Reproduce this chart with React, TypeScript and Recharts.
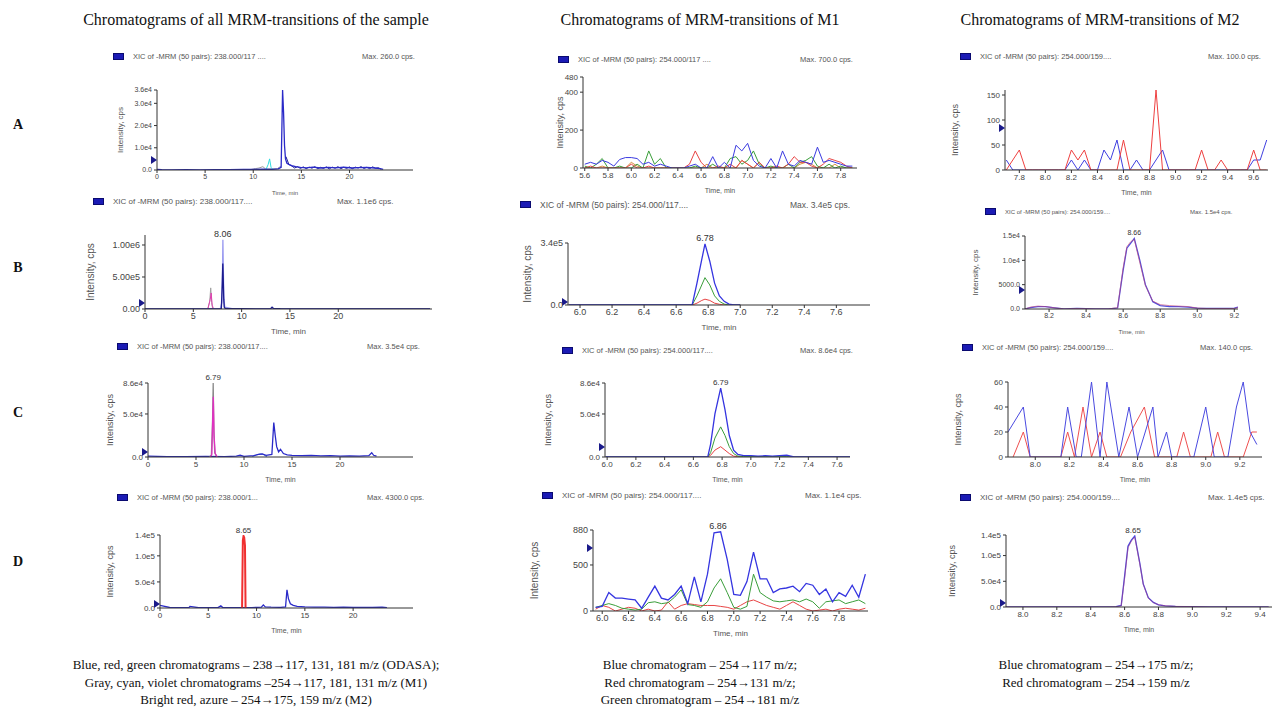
import React from 'react';
import { LineChart, Line, XAxis, YAxis, ReferenceDot } from 'recharts';

// ---------- column 1: all MRM transitions of the sample (0-24 min) ----------
const a1BlueT = [0, 0.5, 1.5, 3, 4.5, 6, 7.5, 9, 10, 11, 12, 12.6, 12.9, 13.05, 13.15, 13.25, 13.35, 13.5, 13.7, 14.0, 14.4, 14.9, 15.5, 16.2, 17.0, 17.8, 18.6, 19.4, 20.2, 21.0, 21.8, 22.6, 23.2, 23.5];
const a1Blue = [300, 200, 100, 150, 100, 150, 200, 250, 300, 400, 300, 500, 1200, 36000, 26000, 11000, 5000, 3000, 2500, 2000, 1500, 1200, 1000, 1300, 900, 1200, 1000, 1300, 900, 1100, 1200, 900, 600, 300];
const a1NavyT = [13.4, 13.7, 14.0, 14.3, 14.6, 14.9, 15.2, 15.5, 15.8, 16.1, 16.4, 16.7, 17.0, 17.3, 17.6, 17.9, 18.2, 18.5, 18.8, 19.1, 19.4, 19.7, 20.0, 20.3, 20.6, 20.9, 21.2, 21.5, 21.8, 22.1, 22.4, 22.7, 23.0, 23.3];
const a1Navy = [6000, 2500, 1800, 900, 1500, 700, 1400, 600, 1300, 800, 1500, 600, 1200, 700, 1400, 500, 1300, 800, 1500, 600, 1200, 700, 1400, 600, 1300, 900, 1500, 700, 1200, 600, 1400, 800, 1000, 300];
const a1CyanT = [11.3, 11.55, 11.7, 11.85, 12.1];
const a1Cyan = [0, 2500, 5000, 1200, 0];
const a1GrayT = [9.5, 10.2, 10.6, 11.0, 11.3, 12.5, 12.9];
const a1Gray = [0, 600, 900, 1500, 400, 600, 1800];

const b1LavT = [0, 2, 4, 6, 7.8, 7.95, 8.02, 8.06, 8.1, 8.15, 8.25, 9, 11, 13, 15, 18, 21, 24, 27, 29.5];
const b1Lav = [0, 3000, 2000, 3000, 5000, 100000, 600000, 1080000, 700000, 200000, 30000, 5000, 3000, 2000, 2000, 2000, 2000, 2000, 2000, 2000];
const b1NavyT = [0, 1, 3, 5, 7.9, 8.0, 8.05, 8.1, 8.15, 8.2, 8.3, 10, 12, 13.0, 13.15, 13.3, 14, 17, 20, 23, 26, 29.5];
const b1Navy = [1000, 2000, 1000, 2000, 3000, 400000, 710000, 450000, 150000, 30000, 8000, 4000, 3000, 4000, 30000, 8000, 4000, 3000, 3000, 3000, 3000, 3000];
const b1PinkT = [6.5, 6.75, 6.85, 6.95, 7.1];
const b1Pink = [0, 150000, 250000, 60000, 0];
const b1GrayT = [6.5, 6.7, 6.8, 6.9, 7.0];
const b1Gray = [0, 120000, 330000, 100000, 0];

const c1GrayT = [6.4, 6.6, 6.72, 6.79, 6.86, 6.95, 7.2];
const c1Gray = [0, 2000, 40000, 86000, 30000, 5000, 0];
const c1PinkT = [6.5, 6.65, 6.75, 6.8, 6.88, 7.0, 7.2];
const c1Pink = [0, 3000, 50000, 70000, 25000, 4000, 0];
const c1BlueT = [0, 2, 4, 6, 8, 9.2, 9.6, 10, 11, 11.5, 11.9, 12.3, 12.9, 13.1, 13.25, 13.4, 13.6, 13.8, 14.1, 14.5, 15, 16, 17, 18, 19, 20, 21, 22, 23, 23.3, 23.5, 23.8];
const c1Blue = [1000, 500, 500, 800, 500, 1000, 2000, 800, 1500, 3000, 3500, 2000, 3000, 40000, 25000, 12000, 6000, 9000, 4000, 2500, 2000, 1500, 1800, 1200, 1500, 1000, 1300, 1100, 1500, 5000, 2000, 1000];
const c1LBlueT = [10.8, 11.3, 11.7, 12.0, 12.4];
const c1LBlue = [0, 2500, 3500, 3000, 0];

const d1RedT = [8.5, 8.58, 8.65, 8.72, 8.8, 8.86];
const d1Red = [0, 130000, 138000, 135000, 120000, 0];
const d1BlueT = [0, 1, 2, 3, 3.1, 4, 5, 6, 6.3, 6.5, 7.5, 8.5, 9.5, 10.5, 10.7, 10.9, 11.5, 12.5, 13.0, 13.15, 13.3, 13.5, 13.8, 14.2, 15, 16, 17, 18, 19, 20, 21, 22, 23, 23.5];
const d1Blue = [5000, 1000, 500, 800, 3000, 600, 800, 700, 4000, 800, 600, 700, 800, 1500, 6000, 2000, 1500, 1200, 2000, 35000, 18000, 8000, 5000, 3000, 2000, 1500, 1800, 1200, 1500, 1000, 1300, 1100, 1500, 800];

// ---------- column 2: M1 transitions ----------
const a2T = [5.60, 5.65, 5.70, 5.75, 5.80, 5.85, 5.90, 5.95, 6.00, 6.05, 6.10, 6.15, 6.20, 6.25, 6.30, 6.35, 6.40, 6.45, 6.50, 6.55, 6.60, 6.65, 6.70, 6.75, 6.80, 6.85, 6.90, 6.95, 7.00, 7.05, 7.10, 7.15, 7.20, 7.25, 7.30, 7.35, 7.40, 7.45, 7.50, 7.55, 7.60, 7.65, 7.70, 7.75, 7.80, 7.85, 7.90];
const a2Blue = [20, 30, 20, 40, 30, 10, 45, 55, 55, 50, 20, 30, 10, 20, 10, 0, 0, 0, 10, 20, 0, 0, 60, 0, 30, 0, 120, 90, 130, 40, 10, 0, 50, 0, 90, 20, 10, 40, 30, 20, 110, 30, 40, 30, 20, 10, 10];
const a2Red = [0, 10, 0, 0, 0, 0, 0, 0, 20, 0, 0, 10, 0, 0, 0, 0, 0, 0, 20, 90, 30, 0, 0, 10, 0, 20, 0, 40, 20, 0, 30, 0, 0, 10, 0, 20, 60, 30, 30, 10, 0, 20, 50, 40, 30, 10, 0];
const a2Green = [10, 0, 20, 50, 0, 0, 10, 0, 0, 20, 0, 90, 20, 50, 0, 0, 0, 0, 0, 10, 0, 0, 20, 0, 0, 50, 60, 20, 40, 90, 20, 0, 10, 0, 0, 20, 0, 30, 40, 60, 10, 0, 20, 0, 10, 0, 0];
const a2Orange = [0, 0, 0, 10, 0, 0, 0, 0, 30, 10, 0, 0, 0, 0, 0, 0, 0, 0, 0, 0, 0, 20, 0, 0, 0, 0, 0, 40, 20, 0, 30, 0, 0, 0, 0, 0, 0, 20, 30, 20, 0, 0, 0, 20, 0, 0, 0];

const b2T = [5.93, 5.95, 6.1, 6.3, 6.5, 6.68, 6.70, 6.73, 6.76, 6.78, 6.81, 6.84, 6.87, 6.90, 6.93, 6.96, 7.0];
const b2Blue = [0, 0, 0, 0, 0, 0, 0, 120000, 250000, 335000, 240000, 120000, 50000, 20000, 5000, 1000, 0];
const b2Green = [0, 0, 0, 0, 0, 0, 0, 50000, 110000, 150000, 110000, 50000, 20000, 5000, 0, 0, 0];
const b2Red = [0, 0, 0, 0, 0, 0, 0, 10000, 25000, 32000, 25000, 10000, 4000, 0, 0, 0, 0];

const c2T = [5.99, 6.2, 6.4, 6.6, 6.70, 6.72, 6.75, 6.79, 6.82, 6.85, 6.88, 6.91, 6.95, 7.0, 7.05, 7.1, 7.15, 7.2, 7.25, 7.3, 7.45, 7.6, 7.69];
const c2Blue = [0, 0, 0, 0, 0, 15000, 50000, 80000, 55000, 25000, 8000, 3000, 1500, 1500, 1000, 1500, 1000, 1500, 2000, 0, 0, 0, 0];
const c2Green = [0, 0, 0, 0, 0, 5000, 22000, 35000, 25000, 12000, 4000, 1000, 500, 500, 300, 400, 300, 400, 500, 0, 0, 0, 0];
const c2Red = [0, 0, 0, 0, 0, 2000, 8000, 12000, 8000, 4000, 1000, 300, 0, 0, 0, 0, 0, 0, 0, 0, 0, 0, 0];

const d2T = [5.95, 6.00, 6.05, 6.10, 6.15, 6.20, 6.25, 6.30, 6.35, 6.40, 6.45, 6.50, 6.55, 6.60, 6.65, 6.70, 6.75, 6.80, 6.85, 6.90, 6.95, 7.00, 7.05, 7.10, 7.15, 7.20, 7.25, 7.30, 7.35, 7.40, 7.45, 7.50, 7.55, 7.60, 7.65, 7.70, 7.75, 7.80, 7.85, 7.90, 7.95, 8.00];
const d2Blue = [40, 50, 200, 140, 140, 130, 120, 30, 150, 270, 140, 120, 180, 270, 80, 370, 100, 400, 850, 860, 560, 180, 170, 320, 640, 350, 350, 200, 240, 250, 270, 210, 300, 280, 180, 240, 100, 200, 160, 280, 150, 400];
const d2Green = [40, 60, 80, 60, 30, 20, 10, 20, 90, 100, 80, 90, 150, 230, 70, 60, 40, 100, 250, 350, 200, 40, 20, 50, 400, 200, 150, 110, 100, 110, 120, 100, 130, 100, 30, 100, 110, 120, 80, 100, 120, 80];
const d2Red = [20, 60, 40, 0, 20, 40, 30, 0, 20, 0, 10, 100, 20, 60, 80, 70, 60, 60, 60, 50, 40, 20, 60, 100, 120, 90, 60, 40, 20, 60, 100, 60, 20, 0, 10, 20, 0, 20, 30, 20, 10, 30];

// ---------- column 3: M2 transitions ----------
const a3T = [7.70, 7.75, 7.80, 7.85, 7.90, 7.95, 8.00, 8.05, 8.10, 8.15, 8.20, 8.25, 8.30, 8.35, 8.40, 8.45, 8.50, 8.55, 8.60, 8.65, 8.70, 8.75, 8.80, 8.85, 8.90, 8.95, 9.00, 9.05, 9.10, 9.15, 9.20, 9.25, 9.30, 9.35, 9.40, 9.45, 9.50, 9.55, 9.60, 9.65, 9.70];
const a3Blue = [20, 0, 0, 0, 0, 0, 0, 0, 0, 0, 20, 0, 20, 0, 0, 40, 20, 60, 0, 0, 20, 0, 0, 20, 40, 0, 0, 0, 0, 0, 0, 0, 0, 0, 0, 0, 0, 0, 20, 20, 60];
const a3Red = [0, 20, 40, 0, 0, 0, 0, 0, 0, 0, 40, 20, 40, 0, 0, 0, 0, 0, 60, 0, 0, 0, 0, 160, 0, 0, 0, 0, 0, 0, 40, 0, 0, 20, 0, 0, 0, 0, 40, 0, 0];

const b3T = [8.07, 8.10, 8.14, 8.18, 8.22, 8.28, 8.35, 8.45, 8.52, 8.57, 8.60, 8.62, 8.64, 8.66, 8.69, 8.72, 8.76, 8.80, 8.85, 8.90, 8.95, 9.0, 9.05, 9.1, 9.15, 9.2, 9.22];
const b3Blue = [0, 300, 500, 500, 300, 0, 100, 0, 0, 200, 8000, 12500, 13500, 14500, 10000, 5000, 1500, 700, 500, 500, 400, 200, 100, 100, 100, 200, 400];
const b3Red = [0, 400, 600, 500, 300, 0, 100, 0, 0, 300, 8500, 12800, 13800, 14300, 9500, 4800, 1600, 900, 700, 600, 500, 200, 100, 100, 100, 100, 300];

const c3BlueT = [7.84, 7.93, 7.97, 8.15, 8.19, 8.24, 8.27, 8.33, 8.38, 8.42, 8.49, 8.55, 8.60, 8.69, 8.72, 8.77, 8.80, 8.93, 9.00, 9.05, 9.13, 9.18, 9.22, 9.26, 9.30];
const c3Blue = [20, 40, 0, 0, 40, 0, 0, 60, 0, 60, 0, 40, 0, 40, 0, 20, 0, 0, 40, 0, 0, 40, 60, 20, 10];
const c3RedT = [7.87, 7.93, 7.97, 8.15, 8.19, 8.23, 8.28, 8.33, 8.38, 8.42, 8.50, 8.56, 8.64, 8.70, 8.83, 8.87, 8.91, 9.03, 9.07, 9.11, 9.22, 9.27, 9.30];
const c3Red = [0, 20, 0, 0, 20, 0, 40, 0, 20, 0, 0, 20, 40, 0, 0, 20, 0, 0, 20, 0, 0, 20, 20];

const d3T = [7.9, 8.1, 8.3, 8.5, 8.55, 8.58, 8.60, 8.62, 8.64, 8.66, 8.69, 8.71, 8.74, 8.77, 8.80, 8.84, 8.90, 9.0, 9.1, 9.2, 9.3, 9.45];
const d3Blue = [0, 0, 0, 0, 500, 3000, 60000, 118000, 130000, 138000, 85000, 45000, 18000, 9000, 4000, 2000, 1000, 500, 300, 0, 0, 0];
const d3Red = [0, 0, 0, 0, 400, 2500, 55000, 115000, 128000, 136000, 83000, 44000, 17000, 8500, 4500, 2500, 1200, 800, 0, 0, 0, 0];

// tick labels
const minTicks = [0, 5, 10, 15, 20];
const a2Ticks = [5.6, 5.8, 6.0, 6.2, 6.4, 6.6, 6.8, 7.0, 7.2, 7.4, 7.6, 7.8];
const m1Ticks = [6.0, 6.2, 6.4, 6.6, 6.8, 7.0, 7.2, 7.4, 7.6];
const d2Ticks = [6.0, 6.2, 6.4, 6.6, 6.8, 7.0, 7.2, 7.4, 7.6, 7.8];
const a3Ticks = [7.8, 8.0, 8.2, 8.4, 8.6, 8.8, 9.0, 9.2, 9.4, 9.6];
const b3Ticks = [8.2, 8.4, 8.6, 8.8, 9.0, 9.2];
const c3Ticks = [8.0, 8.2, 8.4, 8.6, 8.8, 9.0, 9.2];
const d3Ticks = [8.0, 8.2, 8.4, 8.6, 8.8, 9.0, 9.2, 9.4];

const SANS = '"Liberation Sans", Arial, sans-serif';
const SERIF = '"Liberation Serif", "Times New Roman", serif';

const BLUE = '#2a2ac8';
const NAVY = '#1c1c8e';
const RED = '#e84444';
const GREEN = '#3a9e3a';

const expFmt = (d: number) => (v: number) => {
  if (v === 0) return (0).toFixed(d);
  const e = Math.floor(Math.log10(v) + 1e-9);
  return `${(v / Math.pow(10, e)).toFixed(d)}e${e}`;
};
const intFmt = (v: number) => String(v);
const b3Fmt = (v: number) => (v >= 1e4 ? expFmt(1)(v) : v.toFixed(1));

type Trace = { t: number[]; v: number[]; color: string; w?: number; op?: number };
type PanelCfg = {
  x0: number; x1: number; y0: number; y1: number;
  xDomain: [number, number]; xTicks: number[]; xDec: number;
  yMax: number; yTicks: number[]; yFmt: (v: number) => string;
  traces: Trace[];
  legend: string; maxText: string; sqX: number; legY: number; maxX: number; legFs: number;
  ylabX: number; fs: number;
  peak?: { t: number; v: number; label: string };
  marker?: number;
};

const panels: PanelCfg[] = [
  {
    x0: 157, x1: 413, y0: 90, y1: 170, xDomain: [0, 26.6], xTicks: minTicks, xDec: 0,
    yMax: 36000, yTicks: [0, 10000, 20000, 30000, 36000], yFmt: expFmt(1),
    traces: [
      { t: a1GrayT, v: a1Gray, color: '#9a9a9a' },
      { t: a1CyanT, v: a1Cyan, color: '#33dde0' },
      { t: a1NavyT, v: a1Navy, color: NAVY },
      { t: a1BlueT, v: a1Blue, color: BLUE, w: 1.3 },
    ],
    legend: 'XIC of -MRM (50 pairs): 238.000/117 ....', maxText: 'Max. 260.0 cps.',
    sqX: 113, legY: 57, maxX: 362, legFs: 7.5, ylabX: 120, fs: 7, marker: 4500,
  },
  {
    x0: 145, x1: 432, y0: 235, y1: 309, xDomain: [0, 29.7], xTicks: minTicks, xDec: 0,
    yMax: 1156000, yTicks: [0, 500000, 1000000], yFmt: expFmt(2),
    traces: [
      { t: b1GrayT, v: b1Gray, color: '#a0a0a0' },
      { t: b1PinkT, v: b1Pink, color: '#e040b0' },
      { t: b1LavT, v: b1Lav, color: '#9a9af0', w: 1.3 },
      { t: b1NavyT, v: b1Navy, color: NAVY, w: 1.3 },
    ],
    legend: 'XIC of -MRM (50 pairs): 238.000/117....', maxText: 'Max. 1.1e6 cps.',
    sqX: 93, legY: 202, maxX: 337, legFs: 8, ylabX: 90, fs: 9, marker: 93000,
    peak: { t: 8.06, v: 1080000, label: '8.06' },
  },
  {
    x0: 148, x1: 413, y0: 383, y1: 457, xDomain: [0, 27.6], xTicks: minTicks, xDec: 0,
    yMax: 86000, yTicks: [0, 50000, 86000], yFmt: expFmt(1),
    traces: [
      { t: c1LBlueT, v: c1LBlue, color: '#5a8ae0' },
      { t: c1BlueT, v: c1Blue, color: BLUE, w: 1.3 },
      { t: c1GrayT, v: c1Gray, color: '#8a8a8a', w: 1.3 },
      { t: c1PinkT, v: c1Pink, color: '#e030c0', w: 1.3 },
    ],
    legend: 'XIC of -MRM (50 pairs): 238.000/117....', maxText: 'Max. 3.5e4 cps.',
    sqX: 117, legY: 347, maxX: 367, legFs: 7.5, ylabX: 110, fs: 8, marker: 5800,
    peak: { t: 6.79, v: 86000, label: '6.79' },
  },
  {
    x0: 160, x1: 413, y0: 535, y1: 608, xDomain: [0, 26.2], xTicks: minTicks, xDec: 0,
    yMax: 140000, yTicks: [0, 50000, 100000, 140000], yFmt: expFmt(1),
    traces: [
      { t: d1BlueT, v: d1Blue, color: BLUE, w: 1.3 },
      { t: d1RedT, v: d1Red, color: '#f03030', w: 2 },
    ],
    legend: 'XIC of -MRM (50 pairs): 238.000/1...', maxText: 'Max. 4300.0 cps.',
    sqX: 117, legY: 498, maxX: 367, legFs: 7.5, ylabX: 110, fs: 8, marker: 7700,
    peak: { t: 8.65, v: 138000, label: '8.65' },
  },
  {
    x0: 583, x1: 857, y0: 77, y1: 168, xDomain: [5.585, 7.94], xTicks: a2Ticks, xDec: 1,
    yMax: 480, yTicks: [0, 200, 400, 480], yFmt: intFmt,
    traces: [
      { t: a2T, v: a2Orange, color: '#d89040' },
      { t: a2T, v: a2Green, color: GREEN },
      { t: a2T, v: a2Red, color: RED },
      { t: a2T, v: a2Blue, color: '#3a3ae0' },
    ],
    legend: 'XIC of -MRM (50 pairs): 254.000/117 ....', maxText: 'Max. 700.0 cps.',
    sqX: 558, legY: 60, maxX: 800, legFs: 7.5, ylabX: 560, fs: 8,
  },
  {
    x0: 568, x1: 870, y0: 243, y1: 305, xDomain: [5.925, 7.81], xTicks: m1Ticks, xDec: 1,
    yMax: 340000, yTicks: [0, 340000], yFmt: expFmt(1),
    traces: [
      { t: b2T, v: b2Red, color: RED },
      { t: b2T, v: b2Green, color: GREEN },
      { t: b2T, v: b2Blue, color: '#3535e0', w: 1.3 },
    ],
    legend: 'XIC of -MRM (50 pairs): 254.000/117....', maxText: 'Max. 3.4e5 cps.',
    sqX: 520, legY: 205, maxX: 790, legFs: 8.5, ylabX: 527, fs: 9, marker: 16000,
    peak: { t: 6.78, v: 335000, label: '6.78' },
  },
  {
    x0: 605, x1: 850, y0: 383, y1: 457, xDomain: [5.985, 7.69], xTicks: m1Ticks, xDec: 1,
    yMax: 86000, yTicks: [0, 50000, 86000], yFmt: expFmt(1),
    traces: [
      { t: c2T, v: c2Red, color: RED },
      { t: c2T, v: c2Green, color: GREEN },
      { t: c2T, v: c2Blue, color: '#3535e0', w: 1.3 },
    ],
    legend: 'XIC of -MRM (50 pairs): 254.000/117....', maxText: 'Max. 8.6e4 cps.',
    sqX: 562, legY: 351, maxX: 800, legFs: 7.5, ylabX: 548, fs: 8, marker: 11600,
    peak: { t: 6.79, v: 80000, label: '6.79' },
  },
  {
    x0: 593, x1: 868, y0: 530, y1: 611, xDomain: [5.93, 8.02], xTicks: d2Ticks, xDec: 1,
    yMax: 880, yTicks: [0, 500, 880], yFmt: intFmt,
    traces: [
      { t: d2T, v: d2Red, color: RED },
      { t: d2T, v: d2Green, color: GREEN },
      { t: d2T, v: d2Blue, color: '#3535e0', w: 1.3 },
    ],
    legend: 'XIC of -MRM (50 pairs): 254.000/117....', maxText: 'Max. 1.1e4 cps.',
    sqX: 542, legY: 496, maxX: 805, legFs: 8, ylabX: 534, fs: 9, marker: 684,
    peak: { t: 6.88, v: 860, label: '6.86' },
  },
  {
    x0: 1005, x1: 1268, y0: 90, y1: 170, xDomain: [7.69, 9.71], xTicks: a3Ticks, xDec: 1,
    yMax: 160, yTicks: [0, 50, 100, 150], yFmt: intFmt,
    traces: [
      { t: a3T, v: a3Blue, color: '#4040e0' },
      { t: a3T, v: a3Red, color: '#ee4040' },
    ],
    legend: 'XIC of -MRM (50 pairs): 254.000/159....', maxText: 'Max. 100.0 cps.',
    sqX: 960, legY: 57, maxX: 1208, legFs: 7.5, ylabX: 955, fs: 8, marker: 84,
  },
  {
    x0: 1025, x1: 1238, y0: 236, y1: 309, xDomain: [8.07, 9.22], xTicks: b3Ticks, xDec: 1,
    yMax: 15000, yTicks: [0, 5000, 10000, 15000], yFmt: b3Fmt,
    traces: [
      { t: b3T, v: b3Blue, color: '#5050e0', w: 1.3 },
      { t: b3T, v: b3Red, color: '#c04070', op: 0.6 },
    ],
    legend: 'XIC of -MRM (50 pairs): 254.000/159....', maxText: 'Max. 1.5e4 cps.',
    sqX: 985, legY: 212, maxX: 1190, legFs: 6, ylabX: 975, fs: 7, marker: 3900,
    peak: { t: 8.66, v: 14500, label: '8.66' },
  },
  {
    x0: 1008, x1: 1262, y0: 382, y1: 457, xDomain: [7.84, 9.33], xTicks: c3Ticks, xDec: 1,
    yMax: 60, yTicks: [0, 20, 40, 60], yFmt: intFmt,
    traces: [
      { t: c3RedT, v: c3Red, color: '#ee5050' },
      { t: c3BlueT, v: c3Blue, color: '#4a4ae0' },
    ],
    legend: 'XIC of -MRM (50 pairs): 254.000/159....', maxText: 'Max. 140.0 cps.',
    sqX: 962, legY: 348, maxX: 1200, legFs: 7.5, ylabX: 958, fs: 8,
  },
  {
    x0: 1006, x1: 1272, y0: 535, y1: 607, xDomain: [7.9, 9.47], xTicks: d3Ticks, xDec: 1,
    yMax: 140000, yTicks: [0, 50000, 100000, 140000], yFmt: expFmt(1),
    traces: [
      { t: d3T, v: d3Blue, color: '#4545e0', w: 1.3 },
      { t: d3T, v: d3Red, color: '#c04070', op: 0.5 },
    ],
    legend: 'XIC of -MRM (50 pairs): 254.000/159....', maxText: 'Max. 1.4e5 cps.',
    sqX: 960, legY: 498, maxX: 1208, legFs: 8, ylabX: 952, fs: 8, marker: 7800,
    peak: { t: 8.65, v: 138000, label: '8.65' },
  },
];

const YW = 72;
const MT = 14;
const MR = 8;
const XH = 30;

const zip = (t: number[], v: number[]) => t.map((x, i) => ({ t: x, v: v[i] }));

function Panel({ c }: { c: PanelCfg }) {
  const w = c.x1 - c.x0 + YW + MR;
  const h = c.y1 - c.y0 + MT + XH;
  const tickStyle = { fontSize: c.fs, fill: '#444', fontFamily: SANS };
  const small = { position: 'absolute' as const, top: c.legY - 6, fontSize: c.legFs, lineHeight: '12px', color: '#555', fontFamily: SANS, whiteSpace: 'nowrap' as const };
  return (
    <>
      <div style={{ position: 'absolute', left: c.sqX, top: c.legY - 4, width: 11, height: 7, background: '#1b1bb5', border: '1px solid #0a0a70', boxSizing: 'border-box' }} />
      <div style={{ ...small, left: c.sqX + 20 }}>{c.legend}</div>
      <div style={{ ...small, left: c.maxX }}>{c.maxText}</div>
      <div style={{ position: 'absolute', left: c.x0 - YW, top: c.y0 - MT }}>
        <LineChart width={w} height={h} margin={{ top: MT, right: MR, bottom: 0, left: 0 }}>
          <XAxis
            type="number" dataKey="t" domain={c.xDomain} ticks={c.xTicks} allowDataOverflow interval={0}
            tickFormatter={(v: number) => v.toFixed(c.xDec)} tick={tickStyle} tickSize={3} tickMargin={1}
            stroke="#333" height={XH}
            label={{ value: 'Time, min', position: 'insideBottom', offset: 5, fontSize: c.fs - 1, fill: '#555', fontFamily: SANS }}
          />
          <YAxis
            type="number" domain={[0, c.yMax]} ticks={c.yTicks} allowDataOverflow interval={0}
            tickFormatter={c.yFmt} tick={tickStyle} tickSize={3} tickMargin={2} stroke="#333" width={YW}
            label={{ value: 'Intensity, cps', angle: -90, position: 'insideLeft', offset: c.ylabX - (c.x0 - YW), style: { textAnchor: 'middle' }, fontSize: c.fs + 1, fill: '#555', fontFamily: SANS }}
          />
          {c.traces.map((tr, i) => (
            <Line
              key={i} data={zip(tr.t, tr.v)} dataKey="v" type="linear" stroke={tr.color}
              strokeWidth={tr.w ?? 1} strokeOpacity={tr.op ?? 1} dot={false} activeDot={false} isAnimationActive={false}
            />
          ))}
          {c.marker !== undefined && (
            <ReferenceDot
              x={c.xDomain[0]} y={c.marker} ifOverflow="visible"
              shape={(p: any) => <polygon points={`${p.cx - 6},${p.cy - 4} ${p.cx},${p.cy} ${p.cx - 6},${p.cy + 4}`} fill="#1a1a8a" />}
            />
          )}
          {c.peak && (
            <ReferenceDot
              x={c.peak.t} y={c.peak.v} r={0} fill="none" stroke="none" ifOverflow="visible"
              label={{ value: c.peak.label, position: 'top', offset: 3, fontSize: c.fs, fill: '#333', fontFamily: SANS }}
            />
          )}
        </LineChart>
      </div>
    </>
  );
}

const titles = [
  { cx: 256, text: 'Chromatograms of all MRM-transitions of the sample' },
  { cx: 700, text: 'Chromatograms of MRM-transitions of M1' },
  { cx: 1100, text: 'Chromatograms of MRM-transitions of M2' },
];
const rowLabels = [
  { y: 125, text: 'A' },
  { y: 268, text: 'B' },
  { y: 413, text: 'C' },
  { y: 562, text: 'D' },
];
const captions = [
  { cx: 256, lines: ['Blue, red, green chromatograms – 238→117, 131, 181 m/z (ODASA);', 'Gray, cyan, violet chromatograms –254→117, 181, 131 m/z (M1)', 'Bright red, azure – 254→175, 159 m/z (M2)'] },
  { cx: 700, lines: ['Blue chromatogram – 254→117 m/z;', 'Red chromatogram – 254→131 m/z;', 'Green chromatogram – 254→181 m/z'] },
  { cx: 1096, lines: ['Blue chromatogram – 254→175 m/z;', 'Red chromatogram – 254→159 m/z'] },
];

export default function App() {
  return (
    <div style={{ position: 'absolute', left: 0, top: 0, width: 1275, height: 707, background: '#fff', overflow: 'hidden' }}>
      {titles.map((t) => (
        <div key={t.text} style={{ position: 'absolute', left: t.cx - 250, width: 500, top: 10, textAlign: 'center', fontFamily: SERIF, fontSize: 16, lineHeight: '20px', color: '#111' }}>
          {t.text}
        </div>
      ))}
      {rowLabels.map((r) => (
        <div key={r.text} style={{ position: 'absolute', left: 8, width: 20, top: r.y - 9, textAlign: 'center', fontFamily: SERIF, fontWeight: 'bold', fontSize: 14, lineHeight: '18px', color: '#111' }}>
          {r.text}
        </div>
      ))}
      {panels.map((c, i) => (
        <Panel key={i} c={c} />
      ))}
      {captions.map((cap) => (
        <div key={cap.cx} style={{ position: 'absolute', left: cap.cx - 250, width: 500, top: 656, textAlign: 'center', fontFamily: SERIF, fontSize: 13, lineHeight: '17.5px', color: '#111' }}>
          {cap.lines.map((l) => (
            <div key={l}>{l}</div>
          ))}
        </div>
      ))}
    </div>
  );
}
